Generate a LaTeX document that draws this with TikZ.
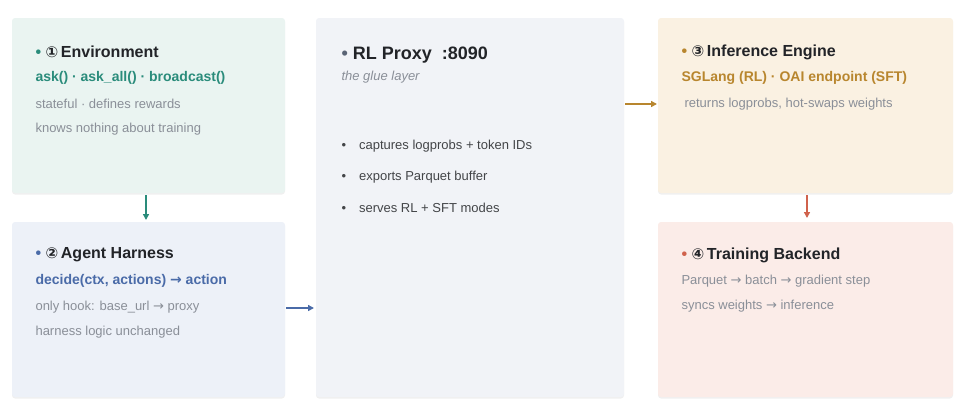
\documentclass[tikz,border=0pt]{standalone}
\usepackage{fontspec}
\setmainfont{Liberation Sans}
\newfontfamily\symfont{DejaVu Sans}
\usetikzlibrary{arrows.meta, positioning, shadows}
\definecolor{envfill}{HTML}{EAF4F1}
\definecolor{envtext}{HTML}{2A8C7B}
\definecolor{agfill}{HTML}{EDF1F8}
\definecolor{agtext}{HTML}{4A6BA8}
\definecolor{pxfill}{HTML}{F1F3F7}
\definecolor{pxdot}{HTML}{5A6475}
\definecolor{inffill}{HTML}{FAF1E2}
\definecolor{inftext}{HTML}{B8862E}
\definecolor{trfill}{HTML}{FBECE8}
\definecolor{trtext}{HTML}{D0624C}
\definecolor{mutegray}{HTML}{8A8F98}
\definecolor{darktext}{HTML}{222428}
\newcommand{\circnum}[1]{{\symfont\fontsize{15}{15}\selectfont#1}}

\begin{document}
\begin{tikzpicture}[
    x=1pt, y=-1pt,
    % --- Styles ---
    card/.style={draw=none, rounded corners=3pt, drop shadow={shadow xshift=0pt, shadow yshift=-1.5pt, opacity=0.12}},
    title/.style={anchor=west, font=\fontsize{16}{18}\selectfont\bfseries, text=darktext},
    api/.style={anchor=west, font=\fontsize{14}{16}\selectfont\bfseries},
    note/.style={anchor=west, font=\fontsize{13}{15}\selectfont, text=mutegray},
    flow/.style={-{Triangle[length=6pt,width=6pt]}, line width=1.8pt}
]
    \useasboundingbox (0,0) rectangle (975,416);

    % Cards
    \fill[card, envfill] (12,18) rectangle (285,193);
    \fill[card, agfill] (12,222) rectangle (285,397);
    \fill[card, pxfill] (316,18) rectangle (624,397);
    \fill[card, inffill] (658,18) rectangle (953,193);
    \fill[card, trfill] (658,222) rectangle (953,397);

    % Environment
    \node[title] (envT) at (32,52) {\textcolor{envtext}{\textbullet}\ \circnum{①}\,Environment};
    \node[api, text=envtext] (envA) at (32,78) {ask() · ask\_all() · broadcast()};
    \node[note] (envN1) at (32,104) {stateful · defines rewards};
    \node[note] (envN2) at (32,129) {knows nothing about training};

    % Agent Harness
    \node[title] (agT) at (32,255) {\textcolor{agtext}{\textbullet}\ \circnum{②}\,Agent Harness};
    \node[api, text=agtext] (agA) at (32,281) {decide(ctx, actions) {\symfont→} action};
    \node[note] (agN1) at (32,307) {only hook: base\_url {\symfont→} proxy};
    \node[note] (agN2) at (32,332) {harness logic unchanged};

    % RL Proxy
    \node[title, font=\fontsize{18}{20}\selectfont\bfseries] (pxT) at (338,55) {\textcolor{pxdot}{\textbullet}\ RL Proxy\ \ :8090};
    \node[note, font=\fontsize{13}{15}\selectfont\itshape] (pxS) at (338,77) {the glue layer};
    \node[note, text=darktext!85] (pxB1) at (338,146) {\textbullet\quad captures logprobs + token IDs};
    \node[note, text=darktext!85] (pxB2) at (338,177) {\textbullet\quad exports Parquet buffer};
    \node[note, text=darktext!85] (pxB3) at (338,208) {\textbullet\quad serves RL + SFT modes};

    % Inference Engine
    \node[title] (infT) at (678,52) {\textcolor{inftext}{\textbullet}\ \circnum{③}\,Inference Engine};
    \node[api, text=inftext] (infA) at (678,78) {SGLang (RL) · OAI endpoint (SFT)};
    \node[note] (infN1) at (681,104) {returns logprobs, hot-swaps weights};

    % Training Backend
    \node[title] (trT) at (678,255) {\textcolor{trtext}{\textbullet}\ \circnum{④}\,Training Backend};
    \node[note] (trN1) at (678,281) {Parquet {\symfont→} batch {\symfont→} gradient step};
    \node[note] (trN2) at (678,306) {syncs weights {\symfont→} inference};

    % Connectors
    \coordinate (envOut) at (146,195);  \coordinate (agIn) at (146,220);
    \coordinate (agOut) at (286,308);   \coordinate (pxIn) at (314,308);
    \coordinate (pxOut) at (625,104);   \coordinate (infIn) at (657,104);
    \coordinate (infOut) at (807,195);  \coordinate (trIn) at (807,218);
    \draw[flow, envtext] (envOut) -- (agIn);
    \draw[flow, agtext] (agOut) -- (pxIn);
    \draw[flow, inftext] (pxOut) -- (infIn);
    \draw[flow, trtext] (infOut) -- (trIn);
\end{tikzpicture}
\end{document}
